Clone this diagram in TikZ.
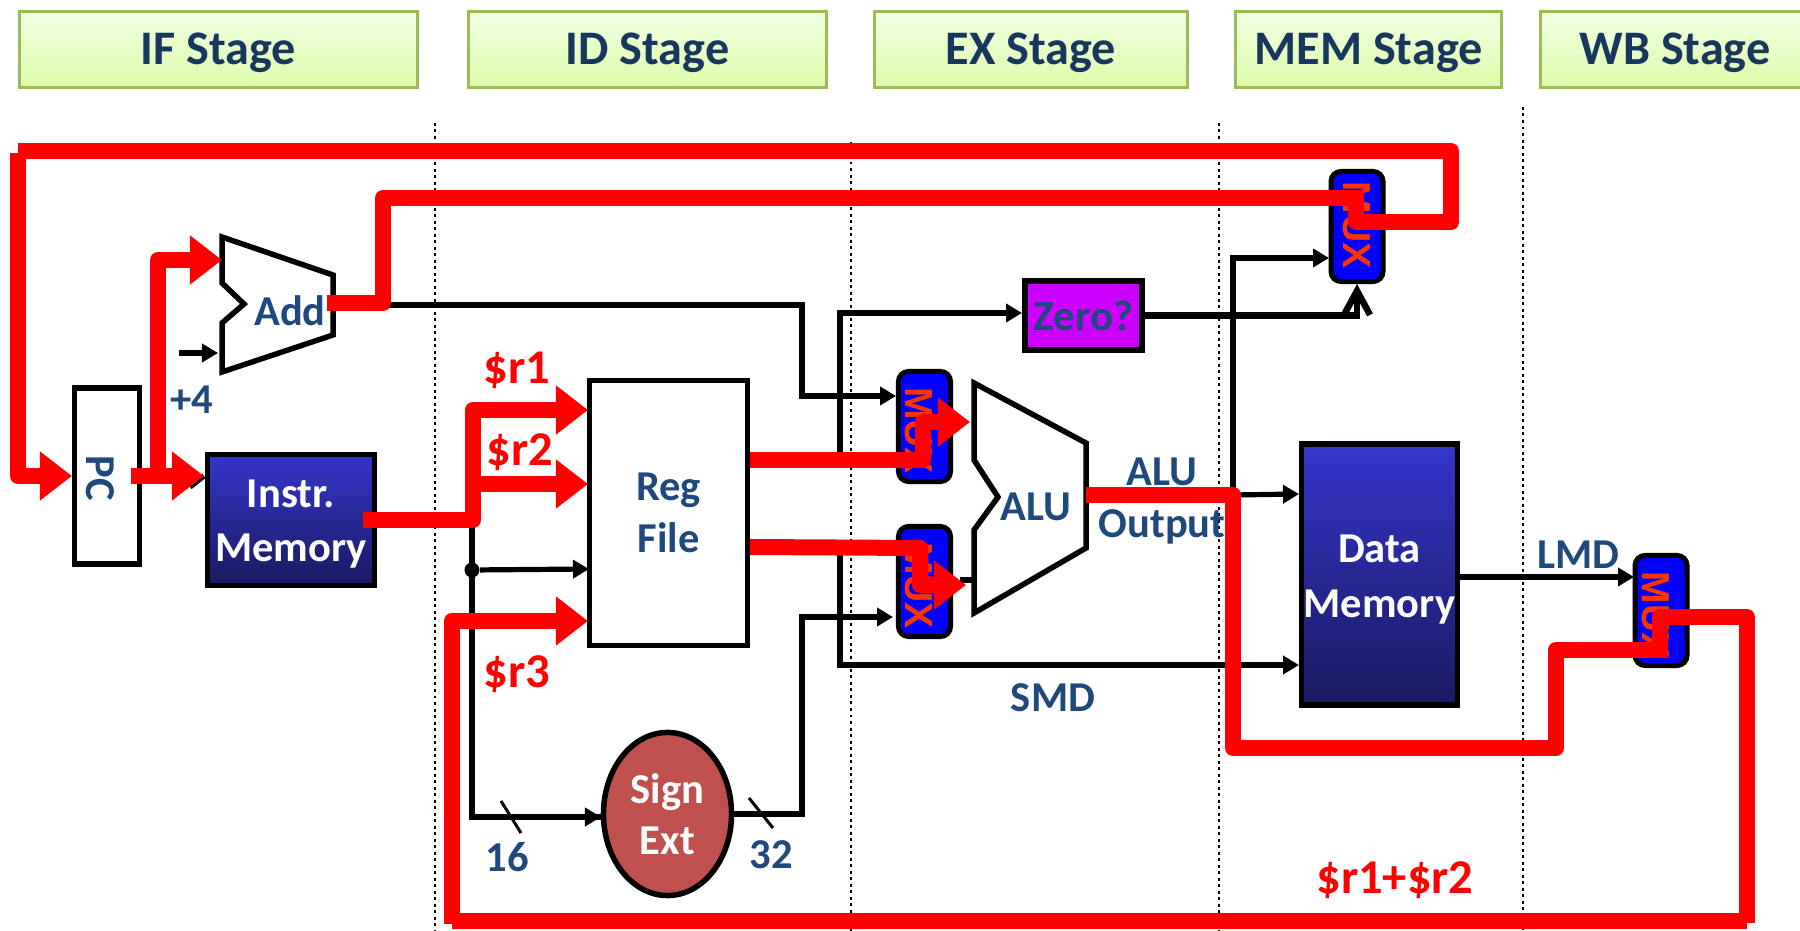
\documentclass[tikz,border=0pt]{standalone}
\usepackage{fontspec}
\setmainfont{Carlito}
\newfontfamily\muxfont{Liberation Sans}
\usetikzlibrary{arrows.meta,shapes.geometric}
\definecolor{stageline}{HTML}{9BBB59}
\definecolor{stagetop}{HTML}{F2FFE4}
\definecolor{stagebot}{HTML}{DDFBA8}
\definecolor{stagetext}{HTML}{17375E}
\definecolor{labblue}{HTML}{1F497D}
\definecolor{memtop}{HTML}{3535CC}
\definecolor{membot}{HTML}{1A1A60}
\definecolor{muxtext}{HTML}{FF3300}
\definecolor{signfill}{HTML}{C0504D}
\definecolor{zerofill}{HTML}{CC00FF}
\begin{document}
\begin{tikzpicture}[x=0.01cm,y=-0.01cm,
stage/.style={draw=stageline,line width=.03cm,top color=stagetop,bottom color=stagebot,minimum height=.76cm,inner sep=0,text=stagetext,text height=.31cm,text depth=0pt,font=\fontsize{13.7}{15}\selectfont\bfseries},
lbl/.style={inner sep=0,text=labblue,align=center,font=\fontsize{12.1}{14.2}\selectfont\bfseries},
lblone/.style={lbl,text height=.27cm,text depth=0pt},
redlbl/.style={inner sep=0,text=red,text height=.3cm,text depth=0pt,font=\fontsize{13.8}{15}\selectfont\bfseries},
memory/.style={draw=black,line width=.055cm,top color=memtop,bottom color=membot,inner sep=0},
memlbl/.style={inner sep=0,text=white,align=center,font=\fontsize{12.1}{15.4}\selectfont\bfseries},
mux/.style={draw=black,line width=.05cm,fill=blue,rounded corners=.1cm,minimum width=.52cm,minimum height=1.1cm,inner sep=0},
muxlbl/.style={inner sep=0,text=muxtext,font=\fontsize{11.1}{13}\selectfont\muxfont\bfseries},
unit/.style={draw=black,line width=.055cm,line join=miter},
wire/.style={draw=black,line width=.052cm},
tip/.style={-{Triangle[length=.16cm,width=.18cm]}},
redw/.style={draw=red,line width=.16cm,line join=round},
redtip/.style={-{Triangle[length=.32cm,width=.47cm]}},
dots/.style={draw=black,line width=.8pt,dash pattern=on .85pt off 1pt}]
\clip(0,0)rectangle(1800,931);
\foreach \n/\x/\w/\t in {ifs/218.5/3.98/IF,ids/647.5/3.58/ID,exs/1031/3.13/EX,mems/1368.5/2.66/MEM,wbs/1675/2.69/WB}\node[stage,minimum width=\w cm](\n)at(\x,49.5){\t{} Stage};
\foreach \n/\x/\y in {d1/435/123,d2/851/142,d3/1219/123,d4/1523/107}{\coordinate(\n)at(\x,\y);\draw[dots](\n)--(\x,931);}
\node[unit,minimum width=.645cm,minimum height=1.76cm](pc)at(107,476){};
\node[memory,minimum width=1.665cm,minimum height=1.305cm](imem)at(291,520){};
\node[memlbl](limem)at(291,524){Instr.\\Memory};
\node[unit,minimum width=1.58cm,minimum height=2.65cm,lbl,draw=black,line width=.05cm](regf)at(668.5,513){Reg\\[.5pt]File};
\node[memory,minimum width=1.555cm,minimum height=2.61cm](dmem)at(1379.5,574.5){};
\node[memlbl](ldmem)at(1379.5,579.5){Data\\Memory};
\node[unit,line width=.06cm,fill=zerofill,minimum width=1.17cm,minimum height=.69cm,inner sep=0,text=labblue,font=\fontsize{12.2}{14}\selectfont\bfseries](zero)at(1083.5,315.5){Zero?};
\node[ellipse,draw=black,line width=.055cm,fill=signfill,minimum width=1.28cm,minimum height=1.63cm,inner sep=0,text=white,align=center,font=\fontsize{12.1}{14.5}\selectfont\bfseries](sext)at(667.5,814){Sign\\Ext};
\foreach \n/\x/\y/\tx/\ty in {mux1/924.5/426.5/919/430.5,mux2/924.5/581.5/919/585.5,mux3/1357/226.5/1356.5/225,mux4/1661/610.5/1656/615}{\node[mux](\n)at(\x,\y){};\node[muxlbl](l\n)at(\tx,\ty){\rotatebox{-90}{MUX}};}
\draw[unit](222,237)--(333,275)--(333,335)--(222,372)--(222,323)--(244,304)--(222,283)--cycle;
\draw[unit](974,383)--(1086,443)--(1086,548)--(974,613)--(974,530)--(998,497)--(974,460)--cycle;
\node[lblone](ladd)at(290,312){Add};
\node[lblone](lalu)at(1036,507){ALU};
\node[lbl](lout)at(1162,501){ALU\\[.5pt]Output};
\node[lbl](lpc)at(100,478){\rotatebox{-90}{PC}};
\foreach \n/\x/\y/\t in {lplus/192/400/+4,l16/507/858/16,l32/771/855/32,lsmd/1053/698/SMD,llmd/1578/555/LMD}\node[lblone](\n)at(\x,\y){\t};
\foreach \n/\x/\y/\t in {lr1/517/368/\$r1,lr2/520/450/\$r2,lr3/517/672/\$r3,lsum/1395/878/\$r1+\$r2}\node[redlbl](\n)at(\x,\y){\t};
\coordinate(addo)at(333,305);\coordinate(addi)at(222,260);\coordinate(addb)at(218,353);\coordinate(plus)at(179,353);
\coordinate(rfa)at(750,460);\coordinate(rfb)at(750,547);\coordinate(aluo)at(1086,495);\coordinate(alob)at(1233,495);
\coordinate(m1a)at(896,396);\coordinate(m1b)at(970,422);\coordinate(m2a)at(893,617);\coordinate(m2b)at(966,585);\coordinate(m3a)at(1329,258);
\coordinate(zin)at(1022,313);\coordinate(dm1)at(1299,494);\coordinate(dm2)at(1299,665);\coordinate(dmo)at(1460,577);\coordinate(m4a)at(1634,577);
\coordinate(jt)at(472,520);\coordinate(sin)at(601,817);\coordinate(rf1)at(588,410);\coordinate(rf2)at(588,484);\coordinate(rf3)at(589,569);\coordinate(rf4)at(588,621);
\coordinate(imo)at(363,520);\coordinate(imi)at(204,476);\coordinate(pco)at(131,476);
\coordinate(alui)at(974,580);\coordinate(alum)at(960,580);
\draw[wire,tip](plus)--(addb);
\draw[wire,tip](addo)--(802,305)--(802,396)--(m1a);
\draw[wire,tip](sext.east)-|(802,617)--(m2a);
\draw[wire,tip](rfa)-|(840,313)--(zin);
\draw[wire,tip](rfb)-|(840,665)--(dm2);
\draw[wire,line width=.065cm,-{Straight Barb[length=.24cm,width=.26cm]}](zero.east)-|(mux3.south);
\draw[wire,tip](alob)|-(m3a);
\draw[wire,tip](alob)--(dm1);
\draw[wire,tip](dmo)--(m4a);
\draw[wire](jt)|-(sin);
\draw[wire,tip](sin)++(-30,0)--(sin);
\node[circle,fill=black,minimum size=.15cm,inner sep=0](jd)at(472,570){};
\draw[wire,tip](jd)--(rf3);
\draw[wire](190,487)--(imi);
\draw[wire](alum)--(alui);
\draw[draw=black,line width=.03cm](501,801)--(521,833);
\draw[draw=black,line width=.03cm](749,798)--(773,828);
\draw[redw](1356,198)--(1356,222)--(1451,222)--(1451,151)--(18,151);
\draw[redw,redtip](18,153)--(18,476)--(pc.west);
\draw[redw,redtip](pco)--(imi);
\draw[redw,redtip](158,476)--(158,260)--(addi);
\draw[redw](327,303)--(383,303)--(383,198)--(1364,198);
\draw[redw,redtip](imo)--(473,520)--(473,410)--(rf1);
\draw[redw,redtip](473,484)--(rf2);
\draw[redw,redtip](rfa)--(923,460)--(923,422)--(m1b);
\draw[redw,redtip](rfb)--(920,548)--(920,585)--(m2b);
\draw[redw](aluo)--(1233,495)--(1233,748)--(1556,748)--(1556,650)--(1668,650);
\draw[redw](1660,650)--(1660,617)--(1747,617)--(1747,923);
\draw[redw](1747,921)--(452,921);
\draw[redw,redtip](452,924)--(452,621)--(rf4);
\end{tikzpicture}
\end{document}
